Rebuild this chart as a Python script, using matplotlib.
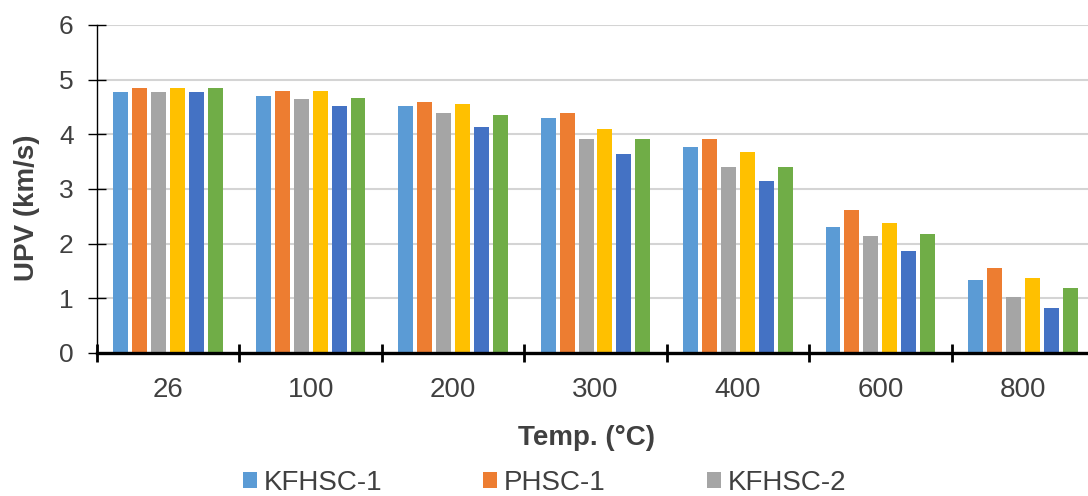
import numpy as np
import matplotlib
matplotlib.use('Agg')
import matplotlib.pyplot as plt

plt.rcParams['font.family'] = ['Liberation Sans', 'DejaVu Sans']

# temperatures (deg C) and UPV readings (km/s) per mix
temps = ['26', '100', '200', '300', '400', '600', '800']
series = ['KFHSC-1', 'PHSC-1', 'KFHSC-2', 'PHSC-2', 'KFHSC-3', 'PHSC-3']
kfhsc_1 = [4.77, 4.70, 4.52, 4.30, 3.77, 2.31, 1.33]
phsc_1 = [4.85, 4.80, 4.60, 4.39, 3.92, 2.61, 1.56]
kfhsc_2 = [4.77, 4.64, 4.39, 3.92, 3.41, 2.14, 1.03]
phsc_2 = [4.85, 4.80, 4.55, 4.10, 3.67, 2.38, 1.38]
kfhsc_3 = [4.77, 4.52, 4.14, 3.64, 3.14, 1.86, 0.83]
phsc_3 = [4.85, 4.67, 4.35, 3.92, 3.41, 2.18, 1.18]
colors = ['#5B9BD5', '#ED7D31', '#A5A5A5', '#FFC000', '#4472C4', '#70AD47']

data = [kfhsc_1, phsc_1, kfhsc_2, phsc_2, kfhsc_3, phsc_3]
text_col = '#404040'

fig = plt.figure(figsize=(10.88, 4.96), dpi=100)
ax = fig.add_axes([97/1088, 1 - 353/496, 997/1088, 328/496])

x = np.arange(len(temps))
pitch = 0.133
width = 0.105
handles = []
for i, (vals, c) in enumerate(zip(data, colors)):
    b = ax.bar(x + (i - 2.5)*pitch, vals, width, color=c, zorder=3,
               label=series[i])
    handles.append(b)

ax.set_xlim(-0.5, len(temps) - 0.5)
ax.set_ylim(0, 6)
ax.set_yticks(range(7))
ax.yaxis.grid(True, color='#D4D4D4', lw=1.5, zorder=0)
ax.set_axisbelow(True)

for s in ['top', 'right']:
    ax.spines[s].set_visible(False)
ax.spines['left'].set_linewidth(1.0)
ax.spines['bottom'].set_linewidth(2.4)
ax.spines['left'].set_zorder(4)
ax.spines['bottom'].set_zorder(4)

# category separators as major ticks, names on minor ticks
ax.set_xticks(np.arange(-0.5, len(temps), 1.0))
ax.set_xticklabels([])
ax.set_xticks(x, minor=True)
ax.set_xticklabels(temps, minor=True)
ax.tick_params(axis='x', which='major', direction='inout', length=13, width=2)
ax.tick_params(axis='x', which='minor', length=0, pad=17,
               labelsize=20, labelcolor=text_col)
ax.tick_params(axis='y', direction='inout', length=12.5, width=1.0,
               pad=10.5, labelsize=19, labelcolor=text_col)

fig.text(586/1088, 1 - 438/496, 'Temp. (°C)', ha='center', va='center',
         fontsize=20, fontweight='bold', color=text_col)
fig.text(27/1088, 1 - 208/496, 'UPV (km/s)', ha='center', va='center',
         rotation=90, fontsize=20, fontweight='bold', color=text_col)

leg = fig.legend(handles=handles[:3], loc='center left',
                 bbox_to_anchor=(243/1088, 1 - 483/496),
                 bbox_transform=fig.transFigure, ncol=3, frameon=False,
                 fontsize=20, handlelength=0.5, handleheight=0.5,
                 handletextpad=0.25, columnspacing=3.63,
                 borderpad=0, borderaxespad=0)
for t in leg.get_texts():
    t.set_color(text_col)

fig.savefig('out.png', dpi=100)
